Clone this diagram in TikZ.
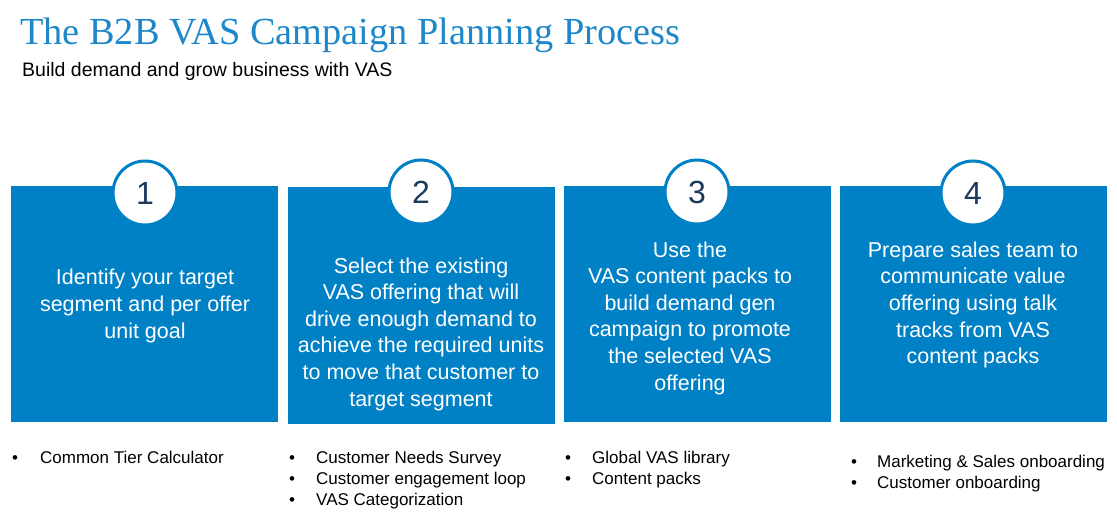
\documentclass[tikz,border=0pt]{standalone}
\usepackage{fontspec}
\setmainfont{Liberation Sans}
\newfontfamily\titlefont{Liberation Serif}
\definecolor{vasblue}{HTML}{0081C6}
\definecolor{titleblue}{HTML}{1D87C9}
\definecolor{numnavy}{HTML}{1B3A5C}
\begin{document}
\begin{tikzpicture}[x=1pt,y=-1pt,
  box/.style={fill=vasblue, draw=none, minimum width=267pt, minimum height=236pt, anchor=north west, inner sep=0},
  numcircle/.style={circle, draw=vasblue, line width=3pt, fill=white, minimum size=64pt, inner sep=0, text=numnavy, font=\fontsize{32}{32}\selectfont},
  boxtext/.style={text=white, align=center, inner sep=0, font=\fontsize{21.5}{26.6}\selectfont},
  bulletmark/.style={anchor=base west, inner sep=0, font=\fontsize{17}{20}\selectfont},
  itemtext/.style={anchor=base west, inner sep=0, font=\fontsize{17}{20}\selectfont}
]
\useasboundingbox (0,0) rectangle (1117,532);
% title
\node[anchor=base west, inner sep=0, text=titleblue, font=\titlefont\fontsize{38.3}{40}\selectfont] (title) at (20,45) {The B2B VAS Campaign Planning Process};
\node[anchor=base west, inner sep=0, font=\fontsize{19.5}{22}\selectfont] (subtitle) at (22,77) {Build demand and grow business with VAS};
% boxes
\node[box] (b1) at (11,186) {};
\node[box, minimum height=237pt] (b2) at (288,187) {};
\node[box] (b3) at (564,186) {};
\node[box] (b4) at (840,186) {};
% circles
\node[numcircle] (c1) at (145,193) {1};
\node[numcircle] (c2) at (421,192) {2};
\node[numcircle] (c3) at (697,192) {3};
\node[numcircle] (c4) at (973,193) {4};
% box texts
\node[boxtext] (t1) at (145,306) {Identify your target\\segment and per offer\\unit goal};
\node[boxtext] (t2) at (421,334) {Select the existing\\VAS offering that will\\drive enough demand to\\achieve the required units\\to move that customer to\\target segment};
\node[boxtext] (t3) at (690,318) {Use the\\VAS content packs to\\build demand gen\\campaign to promote\\the selected VAS\\offering};
\node[boxtext] (t4) at (973,305) {Prepare sales team to\\communicate value\\offering using talk\\tracks from VAS\\content packs};
% bullets box 1
\node[bulletmark] (m11) at (12,463) {•};
\node[itemtext] (i11) at (40,463) {Common Tier Calculator};
% bullets box 2
\node[bulletmark] (m21) at (289,463) {•};
\node[itemtext] (i21) at (316,463) {Customer Needs Survey};
\node[bulletmark] (m22) at (289,484) {•};
\node[itemtext] (i22) at (316,484) {Customer engagement loop};
\node[bulletmark] (m23) at (289,505) {•};
\node[itemtext] (i23) at (316,505) {VAS Categorization};
% bullets box 3
\node[bulletmark] (m31) at (565,463) {•};
\node[itemtext] (i31) at (592,463) {Global VAS library};
\node[bulletmark] (m32) at (565,484) {•};
\node[itemtext] (i32) at (592,484) {Content packs};
% bullets box 4
\node[bulletmark] (m41) at (851,467) {•};
\node[itemtext] (i41) at (877,467) {Marketing \& Sales onboarding};
\node[bulletmark] (m42) at (851,488) {•};
\node[itemtext] (i42) at (877,488) {Customer onboarding};
\end{tikzpicture}
\end{document}
